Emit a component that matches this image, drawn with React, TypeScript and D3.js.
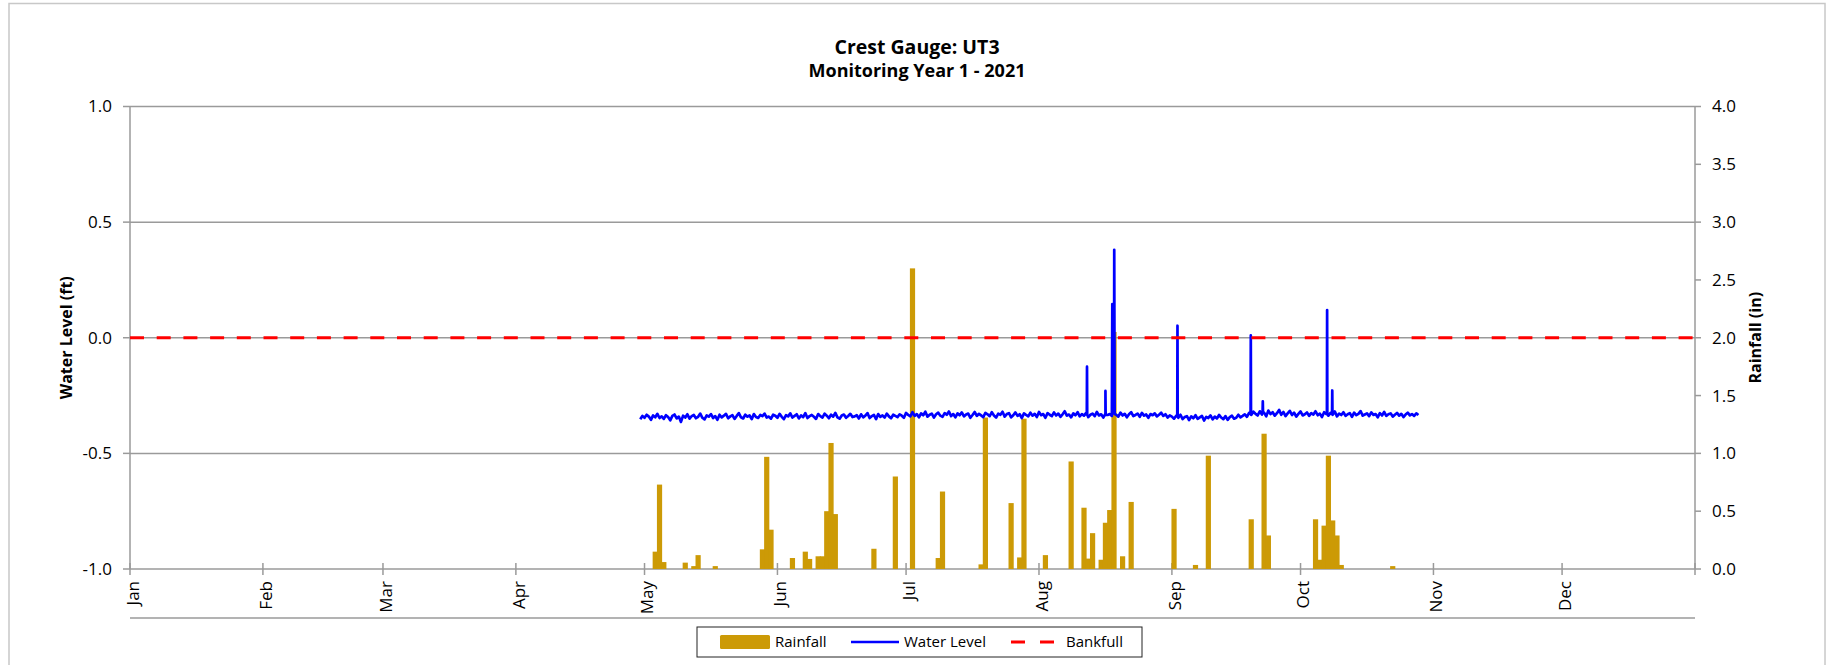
import React from 'react';
import * as d3 from 'd3';

const chartTitle = 'Crest Gauge: UT3';
const chartSubtitle = 'Monitoring Year 1 - 2021';
const leftAxisTitle = 'Water Level (ft)';
const rightAxisTitle = 'Rainfall (in)';

const monthLabels = ['Jan', 'Feb', 'Mar', 'Apr', 'May', 'Jun', 'Jul', 'Aug', 'Sep', 'Oct', 'Nov', 'Dec'];
const monthStartDays = [0, 31, 59, 90, 120, 151, 181, 212, 243, 273, 304, 334];
const waterLevelTicks = [-1, -0.5, 0, 0.5, 1];
const rainfallTicks = [0, 0.5, 1, 1.5, 2, 2.5, 3, 3.5, 4];
const bankfullLevel = 0;

// day of year (0 = Jan 1) and daily rainfall in inches
const rainfallDays = [122, 123, 124, 129, 131, 132, 136, 147, 148, 149, 154, 157, 158, 160, 161, 162, 163, 164, 173, 178, 182, 188, 189, 198, 199, 205, 207, 208, 213, 219, 222, 223, 224, 226, 227, 228, 229, 231, 233, 243, 248, 251, 261, 264, 265, 276, 277, 278, 279, 280, 281, 282, 294];
const rainfallInches = [0.15, 0.73, 0.06, 0.055, 0.025, 0.12, 0.025, 0.17, 0.97, 0.34, 0.095, 0.15, 0.087, 0.11, 0.11, 0.5, 1.09, 0.475, 0.175, 0.8, 2.6, 0.095, 0.67, 0.04, 1.31, 0.57, 0.1, 1.3, 0.12, 0.93, 0.53, 0.09, 0.31, 0.08, 0.4, 0.51, 2.05, 0.11, 0.58, 0.52, 0.035, 0.98, 0.43, 1.17, 0.29, 0.43, 0.08, 0.375, 0.98, 0.42, 0.29, 0.035, 0.025];

// water level (ft), one reading every 12 hours starting at day 119
const waterLevelStartDay = 119;
const waterLevelStepDays = 0.5;
const waterLevelReadings = [
  -0.352, -0.338, -0.346, -0.333, -0.341, -0.355, -0.336, -0.344, -0.329, -0.347, -0.340, -0.351, -0.335, -0.343, -0.357, -0.338, -0.332, -0.349, -0.341, -0.364,
  -0.337, -0.345, -0.331, -0.350, -0.339, -0.334, -0.348, -0.342, -0.328, -0.346, -0.353, -0.336, -0.341, -0.330, -0.347, -0.339, -0.355, -0.333, -0.344, -0.337,
  -0.329, -0.348, -0.340, -0.335, -0.351, -0.338, -0.326, -0.344, -0.349, -0.333, -0.341, -0.336, -0.352, -0.330, -0.343, -0.347, -0.334, -0.339, -0.328, -0.345,
  -0.341, -0.350, -0.333, -0.337, -0.346, -0.329, -0.342, -0.352, -0.335, -0.340, -0.327, -0.345, -0.338, -0.331, -0.349, -0.336, -0.343, -0.326, -0.347, -0.339,
  -0.334, -0.342, -0.351, -0.330, -0.339, -0.345, -0.328, -0.337, -0.348, -0.333, -0.341, -0.325, -0.344, -0.350, -0.336, -0.332, -0.346, -0.338, -0.329, -0.343,
  -0.340, -0.335, -0.349, -0.331, -0.344, -0.337, -0.326, -0.347, -0.339, -0.334, -0.352, -0.330, -0.342, -0.336, -0.345, -0.328, -0.340, -0.348, -0.333, -0.338,
  -0.343, -0.331, -0.337, -0.346, -0.325, -0.334, -0.340, -0.322, -0.338, -0.330, -0.344, -0.327, -0.335, -0.320, -0.341, -0.333, -0.328, -0.345, -0.331, -0.324,
  -0.337, -0.342, -0.326, -0.333, -0.319, -0.339, -0.330, -0.344, -0.327, -0.335, -0.323, -0.340, -0.332, -0.328, -0.346, -0.334, -0.321, -0.338, -0.329, -0.336,
  -0.343, -0.325, -0.331, -0.339, -0.322, -0.336, -0.345, -0.328, -0.333, -0.320, -0.341, -0.330, -0.326, -0.344, -0.335, -0.323, -0.338, -0.331, -0.347, -0.327,
  -0.334, -0.340, -0.324, -0.337, -0.329, -0.343, -0.321, -0.335, -0.330, -0.346, -0.326, -0.333, -0.339, -0.323, -0.336, -0.328, -0.342, -0.331, -0.318, -0.337,
  -0.332, -0.344, -0.327, -0.335, -0.322, -0.340, -0.330, -0.337, -0.325, -0.343, -0.333, -0.328, -0.339, -0.321, -0.336, -0.331, -0.345, -0.326, -0.334, -0.330,
  -0.338, -0.327, -0.333, -0.341, -0.324, -0.336, -0.329, -0.344, -0.331, -0.322, -0.339, -0.334, -0.328, -0.342, -0.325, -0.337, -0.332, -0.346, -0.330, -0.335,
  -0.327, -0.340, -0.333, -0.324, -0.338, -0.331, -0.345, -0.336, -0.341, -0.350, -0.337, -0.346, -0.333, -0.352, -0.343, -0.339, -0.356, -0.340, -0.348, -0.335,
  -0.351, -0.344, -0.338, -0.358, -0.342, -0.347, -0.336, -0.353, -0.341, -0.349, -0.334, -0.345, -0.352, -0.339, -0.355, -0.343, -0.337, -0.350, -0.346, -0.333,
  -0.344, -0.338, -0.331, -0.342, -0.325, -0.334, -0.320, -0.329, -0.336, -0.318, -0.332, -0.324, -0.340, -0.315, -0.330, -0.322, -0.337, -0.326, -0.312, -0.333,
  -0.321, -0.339, -0.327, -0.316, -0.334, -0.324, -0.341, -0.329, -0.319, -0.336, -0.331, -0.323, -0.338, -0.326, -0.332, -0.318, -0.335, -0.328, -0.343, -0.322,
  -0.330, -0.337, -0.325, -0.333, -0.319, -0.340, -0.328, -0.334, -0.322, -0.338, -0.331, -0.326, -0.342, -0.324, -0.335, -0.329, -0.317, -0.337, -0.332, -0.327,
  -0.339, -0.323, -0.334, -0.330, -0.344, -0.326, -0.336, -0.321, -0.338, -0.331, -0.327, -0.341, -0.333, -0.325, -0.337, -0.329, -0.343, -0.332, -0.324, -0.336,
  -0.330, -0.338, -0.327, -0.334,
];

// short-lived peaks recorded between the regular readings: [day, ft]
const waterLevelPeaks: [number, number][] = [
  [223.15, -0.332], [223.2, -0.125], [223.25, -0.333],
  [227.45, -0.331], [227.5, -0.23], [227.55, -0.334],
  [229.0, -0.33], [229.1, 0.146], [229.45, 0.13], [229.55, 0.38], [229.65, -0.33],
  [244.25, -0.34], [244.3, 0.052], [244.35, -0.34],
  [261.35, -0.33], [261.4, 0.01], [261.45, -0.33],
  [264.15, -0.32], [264.2, -0.275], [264.25, -0.32],
  [279.15, -0.33], [279.2, 0.12], [279.25, -0.33],
  [280.35, -0.33], [280.4, -0.228], [280.45, -0.33],
];

const W = 1829;
const H = 665;
const plotLeft = 130;
const plotRight = 1695;
const plotTop = 106.5;
const plotBottom = 569;
const FONT = '"Open Sans", "Noto Sans", sans-serif';
const GRID = '#9a9a9a';
const RAIN = '#CC9A06';

export default function App() {
  const x = d3.scaleLinear().domain([0, 365]).range([plotLeft, plotRight]);
  const yL = d3.scaleLinear().domain([-1, 1]).range([plotBottom, plotTop]);
  const yR = d3.scaleLinear().domain([0, 4]).range([plotBottom, plotTop]);

  const wlPoints: [number, number][] = waterLevelReadings
    .map((v, i) => [waterLevelStartDay + i * waterLevelStepDays, v] as [number, number])
    .concat(waterLevelPeaks)
    .sort((a, b) => a[0] - b[0]);
  const line = d3.line<[number, number]>().x((d) => x(d[0])).y((d) => yL(d[1]));

  const barW = 5.2;
  const cy = (plotTop + plotBottom) / 2;

  return (
    <svg width={W} height={H} style={{ position: 'absolute', left: 0, top: 0, background: '#fff' }} fontFamily={FONT}>
      <rect x={9} y={3.5} width={1816} height={700} fill="#fff" stroke="#c8c8c8" strokeWidth={1.5} />
      <text x={917} y={47} dy="0.35em" textAnchor="middle" fontWeight="bold" fontSize={19.5}>{chartTitle}</text>
      <text x={917} y={71} dy="0.35em" textAnchor="middle" fontWeight="bold" fontSize={18}>{chartSubtitle}</text>

      {/* gridlines */}
      {waterLevelTicks.map((t) => (
        <line key={'g' + t} x1={plotLeft} x2={plotRight} y1={yL(t)} y2={yL(t)} stroke={GRID} strokeWidth={1.5} />
      ))}
      {/* left axis */}
      <line x1={plotLeft} x2={plotLeft} y1={plotTop} y2={plotBottom} stroke={GRID} strokeWidth={1.5} />
      {waterLevelTicks.map((t) => (
        <g key={'l' + t}>
          <line x1={plotLeft - 7} x2={plotLeft} y1={yL(t)} y2={yL(t)} stroke={GRID} strokeWidth={1.5} />
          <text x={112} y={yL(t)} dy="0.35em" textAnchor="end" fontSize={17}>{t.toFixed(1)}</text>
        </g>
      ))}
      {/* right axis */}
      <line x1={plotRight} x2={plotRight} y1={plotTop} y2={plotBottom} stroke={GRID} strokeWidth={1.5} />
      {rainfallTicks.map((t) => (
        <g key={'r' + t}>
          <line x1={plotRight} x2={plotRight + 6} y1={yR(t)} y2={yR(t)} stroke={GRID} strokeWidth={1.5} />
          <text x={1712} y={yR(t)} dy="0.35em" textAnchor="start" fontSize={17}>{t.toFixed(1)}</text>
        </g>
      ))}
      {/* x axis ticks and labels */}
      {monthStartDays.map((d, i) => (
        <g key={'m' + d}>
          <line x1={x(d)} x2={x(d)} y1={plotBottom - 6} y2={plotBottom + 6} stroke={GRID} strokeWidth={1.5} />
          <text transform={`translate(${x(d) + 3},581) rotate(-90)`} dy="0.35em" textAnchor="end" fontSize={17}>{monthLabels[i]}</text>
        </g>
      ))}
      <line x1={x(365)} x2={x(365)} y1={plotBottom - 6} y2={plotBottom + 6} stroke={GRID} strokeWidth={1.5} />
      <line x1={plotLeft} x2={plotRight} y1={618} y2={618} stroke={GRID} strokeWidth={1.5} />

      {/* rainfall bars */}
      {rainfallDays.map((d, i) => (
        <rect key={'b' + d} x={x(d + 0.5) - barW / 2} width={barW} y={yR(rainfallInches[i])} height={plotBottom - yR(rainfallInches[i])} fill={RAIN} />
      ))}

      {/* water level */}
      <path d={line(wlPoints) || ''} fill="none" stroke="#0000FF" strokeWidth={2.7} strokeLinejoin="round" />

      {/* bankfull */}
      <line x1={plotLeft} x2={plotRight} y1={yL(bankfullLevel)} y2={yL(bankfullLevel)} stroke="#FF0000" strokeWidth={3.2} strokeDasharray="14 12.7" />

      {/* axis titles */}
      <text transform={`translate(66,${cy}) rotate(-90)`} dy="0.35em" textAnchor="middle" fontWeight="bold" fontSize={16}>{leftAxisTitle}</text>
      <text transform={`translate(1755,${cy}) rotate(-90)`} dy="0.35em" textAnchor="middle" fontWeight="bold" fontSize={16}>{rightAxisTitle}</text>

      {/* legend */}
      <rect x={697} y={627} width={445} height={30} fill="#fff" stroke="#222" strokeWidth={1} />
      <rect x={720} y={635} width={50} height={14} rx={1.5} fill={RAIN} />
      <text x={775} y={642} dy="0.35em" fontSize={15}>Rainfall</text>
      <line x1={851} x2={899} y1={642} y2={642} stroke="#0000FF" strokeWidth={2.4} />
      <text x={904} y={642} dy="0.35em" fontSize={15}>Water Level</text>
      <line x1={1011} x2={1054} y1={642} y2={642} stroke="#FF0000" strokeWidth={3.2} strokeDasharray="14 15" />
      <text x={1066} y={642} dy="0.35em" fontSize={15}>Bankfull</text>
    </svg>
  );
}
